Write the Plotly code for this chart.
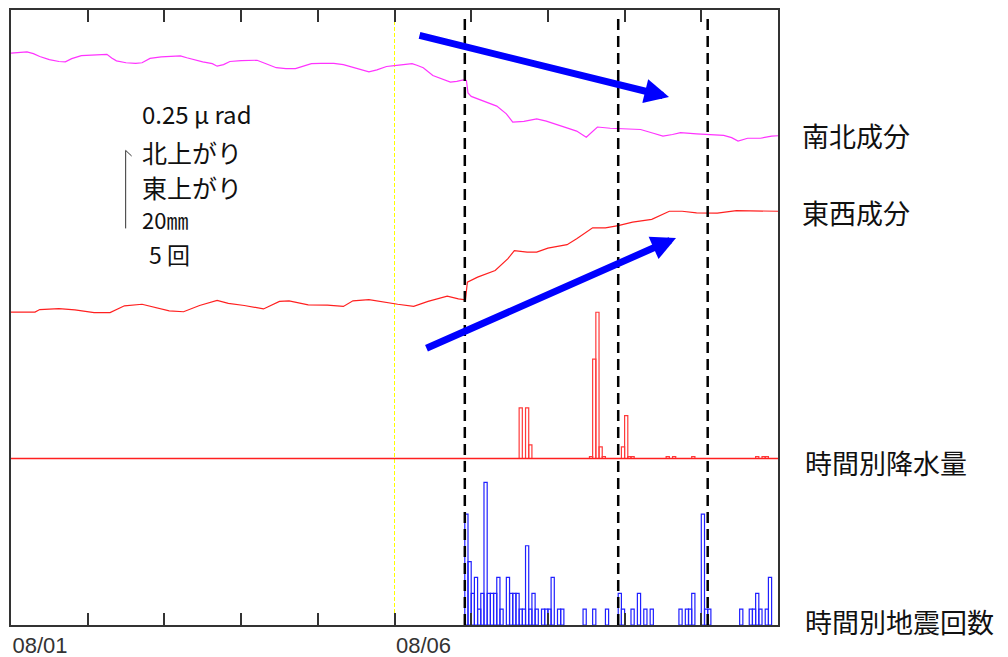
import plotly.graph_objects as go
import pandas as pd

START = pd.Timestamp("2019-08-01 00:00")

# 南北成分 tilt (μrad, relative), hours since 08/01 00:00
ns_hours = [0, 5, 7, 9, 12, 15, 17, 19, 22, 25, 27, 30, 31.5, 33, 36, 39, 41, 43.5, 47, 51, 53, 55, 57, 60,
            63, 64.5, 66.5, 68.5, 72, 77, 79, 83, 86, 89, 91.5, 94, 97, 101, 104, 107, 110, 112, 114.5, 117.5,
            120, 122, 125.5, 127, 129, 132, 134.5, 137.5, 139.5, 141.5, 142.5, 143, 144, 149, 152, 155, 157,
            160.5, 164.5, 167.5, 172, 177, 180, 181, 183.5, 187.5, 190.5, 197, 201, 204, 207, 209.5, 214.5,
            217.5, 223, 225.5, 227.5, 230.5, 234.5, 238, 240]
ns_tilt = [1.833, 1.837, 1.831, 1.822, 1.812, 1.806, 1.805, 1.815, 1.825, 1.826, 1.826, 1.829, 1.817, 1.808,
           1.802, 1.800, 1.802, 1.816, 1.821, 1.823, 1.824, 1.818, 1.812, 1.805, 1.799, 1.791, 1.796, 1.806,
           1.809, 1.810, 1.802, 1.786, 1.783, 1.783, 1.791, 1.799, 1.800, 1.800, 1.796, 1.788, 1.779, 1.773,
           1.779, 1.790, 1.793, 1.796, 1.799, 1.794, 1.786, 1.761, 1.751, 1.740, 1.742, 1.747, 1.745, 1.705,
           1.694, 1.676, 1.663, 1.638, 1.612, 1.614, 1.622, 1.615, 1.601, 1.583, 1.563, 1.572, 1.596, 1.592,
           1.590, 1.588, 1.576, 1.567, 1.572, 1.578, 1.574, 1.572, 1.569, 1.562, 1.551, 1.560, 1.560, 1.567,
           1.568]

# 東西成分 tilt (μrad, relative)
ew_hours = [0, 7.5, 9, 15, 20, 26, 31, 35.5, 41, 45, 49.5, 54, 59, 64.5, 68, 73, 79, 84, 87, 93, 99, 104,
            107, 112, 116.5, 121, 126, 130.5, 136.5, 140, 142.2, 142.8, 146, 151.5, 155.5, 157.5, 161.5,
            164.5, 168, 174, 177, 182, 186, 190, 194.5, 200.5, 206, 210, 214.5, 221, 227, 233, 240]
ew_tilt = [1.003, 1.003, 1.011, 1.014, 1.010, 1.001, 1.001, 1.023, 1.028, 1.019, 1.007, 1.004, 1.024, 1.040,
           1.031, 1.024, 1.013, 1.037, 1.039, 1.026, 1.025, 1.021, 1.039, 1.043, 1.035, 1.028, 1.021, 1.037,
           1.054, 1.045, 1.042, 1.099, 1.115, 1.136, 1.174, 1.200, 1.195, 1.195, 1.208, 1.219, 1.238, 1.273,
           1.273, 1.280, 1.291, 1.300, 1.326, 1.326, 1.321, 1.320, 1.328, 1.326, 1.326]

# 時間別降水量 (mm), hour start
rain_hours = [159, 161, 162, 181, 182, 183, 184, 185, 191, 192, 193, 194, 205, 207, 213, 233, 235, 236]
rain_mm = [13.0, 13.0, 3.5, 0.5, 25.5, 37.5, 3.0, 0.5, 3.0, 11.0, 0.5, 0.5, 0.5, 0.5, 0.5, 0.5, 0.5, 0.5]

# 時間別地震回数, hour start
quake_hours = [142, 143, 144, 145, 146, 147, 148, 149, 150, 151, 152, 153, 155, 156, 157, 158, 159, 160,
               161, 162, 163, 164, 166, 167, 168, 169, 171, 172, 179, 182, 186, 190, 191, 194, 196, 198,
               200, 209, 211, 212, 213, 216, 217, 218, 228, 231, 232, 233, 234, 236, 237]
quake_count = [7, 4, 2, 3, 1, 2, 9, 2, 2, 2, 3, 1, 3, 2, 2, 2, 1, 1, 5, 1, 2, 1, 1, 1, 1, 3, 1, 1, 1, 1, 1,
               2, 1, 1, 2, 1, 1, 1, 1, 1, 2, 7, 1, 1, 1, 1, 1, 2, 1, 1, 3]

event_hours = [142, 190, 218]
marker_hour = 120
tick_hours = [0, 24, 48, 72, 96, 120, 144, 168, 192, 216, 240]
tick_labels = ["08/01", "", "", "", "", "08/06", "", "", "", "", ""]


def to_time(hours):
    return [START + pd.Timedelta(hours=h) for h in hours]


HOUR_MS = 3600 * 1000
JP = "Noto Sans CJK JP"

fig = go.Figure()
fig.add_trace(go.Scatter(x=to_time(ns_hours), y=ns_tilt, mode="lines",
                         line=dict(color="#ff33ff", width=1.2), yaxis="y", name="南北成分"))
fig.add_trace(go.Scatter(x=to_time(ew_hours), y=ew_tilt, mode="lines",
                         line=dict(color="#ff2020", width=1.2), yaxis="y", name="東西成分"))
fig.add_trace(go.Scatter(x=to_time([tick_hours[0], tick_hours[-1]]), y=[0, 0], mode="lines",
                         line=dict(color="#ff2020", width=1.6), yaxis="y2", name="rain0"))
fig.add_trace(go.Bar(x=to_time(rain_hours), y=rain_mm, width=HOUR_MS, offset=0, yaxis="y2",
                     marker=dict(color="rgba(255,255,255,0)", line=dict(color="#ff3a3a", width=1.2)),
                     name="時間別降水量"))
fig.add_trace(go.Bar(x=to_time(quake_hours), y=quake_count, width=HOUR_MS, offset=0, yaxis="y3",
                     marker=dict(color="rgba(255,255,255,0)", line=dict(color="#2020ff", width=1.2)),
                     name="時間別地震回数"))

shapes = []
shapes.append(dict(type="line", xref="x", yref="paper", x0=to_time([marker_hour])[0],
                   x1=to_time([marker_hour])[0], y0=0, y1=1,
                   line=dict(color="#ffff00", width=1, dash="4px,2px"), layer="below"))
for h in event_hours:
    t = to_time([h])[0]
    shapes.append(dict(type="line", xref="x", yref="paper", x0=t, x1=t, y0=0, y1=0.99,
                       line=dict(color="#000000", width=2.5, dash="11px,6px")))
# scale bar (0.25 μrad)
sx = 0.1495
shapes.append(dict(type="line", xref="paper", yref="y", x0=sx, x1=sx, y0=1.271, y1=1.521,
                   line=dict(color="#333333", width=1)))
shapes.append(dict(type="line", xref="paper", yref="y", x0=sx, x1=sx + 0.0078, y0=1.521, y1=1.503,
                   line=dict(color="#333333", width=1)))

ann = []
def txt(s, x, y, size, xanchor="left"):
    ann.append(dict(text=s, x=x, y=y, xref="paper", yref="paper", xanchor=xanchor, yanchor="middle",
                    showarrow=False, font=dict(family=JP, size=size, color="#111111")))

txt("0.25 μ rad", 0.1685, 0.831, 24)
txt("北上がり", 0.1685, 0.769, 25)
txt("東上がり", 0.1685, 0.7125, 25)
txt("20㎜", 0.1685, 0.660, 22)
txt("5 回", 0.1775, 0.6035, 23)
txt("南北成分", 1.0290, 0.7967, 27)
txt("東西成分", 1.0290, 0.670, 27)
txt("時間別降水量", 1.0330, 0.265, 27)
txt("時間別地震回数", 1.0330, 0.0049, 27)

# blue trend arrows
ann.append(dict(text="", x=0.8579, y=0.8585, xref="paper", yref="paper", ax=-251, ay=-62,
                axref="pixel", ayref="pixel", showarrow=True, arrowhead=2, arrowsize=0.7,
                arrowwidth=7, arrowcolor="#0000ff"))
ann.append(dict(text="", x=0.867, y=0.6293, xref="paper", yref="paper", ax=-251, ay=111,
                axref="pixel", ayref="pixel", showarrow=True, arrowhead=2, arrowsize=0.7,
                arrowwidth=7, arrowcolor="#0000ff"))

fig.update_layout(
    width=1008, height=657,
    margin=dict(l=11, r=230, t=10, b=32, autoexpand=False),
    paper_bgcolor="white", plot_bgcolor="white",
    showlegend=False, barmode="overlay",
    shapes=shapes, annotations=ann,
    xaxis=dict(type="date", range=[to_time([tick_hours[0]])[0], to_time([tick_hours[-1]])[0]],
               tickvals=to_time(tick_hours), ticktext=tick_labels, automargin=False,
               ticks="inside", ticklen=12, tickwidth=1.5, tickcolor="#333333",
               showline=True, linecolor="#333333", linewidth=1.5, mirror="ticks",
               showgrid=False, zeroline=False, ticklabelposition="outside right",
               tickfont=dict(family="Liberation Sans", size=22, color="#333333")),
    yaxis=dict(range=[0, 1.971], showline=True, linecolor="#333333", linewidth=1.5, mirror=True,
               automargin=False, showticklabels=False, ticks="", showgrid=False, zeroline=False),
    yaxis2=dict(range=[-42.7, 115.0], overlaying="y", visible=False),
    yaxis3=dict(range=[0, 38.8], overlaying="y", visible=False),
)

fig.write_html("out.html", config={"displayModeBar": False},
               post_script="document.body.style.margin='0';document.body.style.overflow='hidden';")
